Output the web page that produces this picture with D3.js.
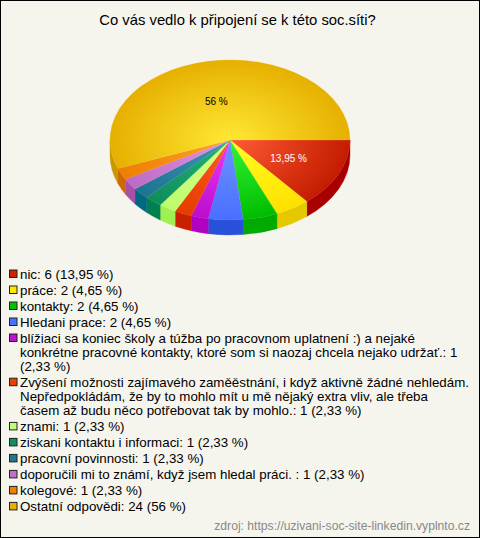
<!DOCTYPE html>
<html><head><meta charset="utf-8">
<script src="https://cdn.jsdelivr.net/npm/d3@7"></script>
<style>html,body{margin:0;padding:0;background:#f5f5ee}svg{display:block}text{font-family:"Liberation Sans",Arial,sans-serif;fill:#000}</style>
</head><body><div id="c"></div>
<script>
const title = "Co vás vedlo k připojení se k této soc.síti?";
const source = "zdroj: https://uzivani-soc-site-linkedin.vyplnto.cz";
const values = [6,2,2,2,1,1,1,1,1,1,1,24];
const percents = ["13,95 %","4,65 %","4,65 %","4,65 %","2,33 %","2,33 %","2,33 %","2,33 %","2,33 %","2,33 %","2,33 %","56 %"];
const legendLines = [
 ["nic: 6 (13,95 %)"],
 ["práce: 2 (4,65 %)"],
 ["kontakty: 2 (4,65 %)"],
 ["Hledani prace: 2 (4,65 %)"],
 ["blížiaci sa koniec školy a túžba po pracovnom uplatnení :) a nejaké","konkrétne pracovné kontakty, ktoré som si naozaj chcela nejako udržať.: 1","(2,33 %)"],
 ["Zvýšení možnosti zajímavého zaměěstnání, i když aktivně žádné nehledám.","Nepředpokládám, že by to mohlo mít u mě nějaký extra vliv, ale třeba","časem až budu něco potřebovat tak by mohlo.: 1 (2,33 %)"],
 ["znami: 1 (2,33 %)"],
 ["ziskani kontaktu i informaci: 1 (2,33 %)"],
 ["pracovní povinnosti: 1 (2,33 %)"],
 ["doporučili mi to známí, když jsem hledal práci. : 1 (2,33 %)"],
 ["kolegové: 1 (2,33 %)"],
 ["Ostatní odpovědi: 24 (56 %)"]
];
const colorInner = ["#ff5c34","#ffff22","#34f534","#6c94ff","#ea3cff","#ff5c20","#dcff88","#22b474","#3c94b4","#e294e2","#ffa428","#ffe834"];
const colorOuter = ["#c41c00","#ffe000","#00bc00","#4a6eff","#bc0ccc","#e63c00","#bcfc6c","#0e8e5c","#1e7490","#bc6cc4","#ee7e00","#e6b000"];
const colorSide  = ["#a80000","#e6c800","#00aa00","#2850d8","#b000c0","#c82000","#a0f050","#008050","#006880","#a850a8","#d06800","#c89800"];
const colorKey   = ["#cc2200","#ffe800","#00c000","#4a70ff","#c010d0","#e84000","#c0ff70","#109060","#207890","#c070c8","#f08000","#e8b000"];
const labelled = [[0,"#fff",0.54],[11,"#000",0.49]];

const W=480,H=538,cx=230,cy=140,rx=120,ry=80,depth=15;
const svg=d3.select("#c").append("svg").attr("width",W).attr("height",H);
svg.append("rect").attr("x",.5).attr("y",.5).attr("width",W-1).attr("height",H-1).attr("fill","#f5f5ee").attr("stroke","#000");

svg.append("text").attr("x",237.5).attr("y",25).attr("text-anchor","middle").attr("font-size",14.8).text(title);

const pie=d3.pie().sort(null).value(d=>d).startAngle(Math.PI/2).endAngle(Math.PI*2.5);
const arcs=pie(values);
const px=a=>cx+rx*Math.sin(a), py=a=>cy-ry*Math.cos(a);

const defs=svg.append("defs");
arcs.forEach((d,i)=>{
  const g=defs.append("radialGradient").attr("id","g"+i).attr("gradientUnits","userSpaceOnUse")
    .attr("cx",0).attr("cy",0).attr("r",rx);
  g.append("stop").attr("offset",0).attr("stop-color",colorInner[i]);
  g.append("stop").attr("offset",1).attr("stop-color",colorOuter[i]);
});

const frontStart=Math.PI/2, frontEnd=Math.PI*1.5;
const sideG=svg.append("g");
arcs.forEach((d,i)=>{
  const a0=Math.max(d.startAngle,frontStart), a1=Math.min(d.endAngle,frontEnd);
  if(a1<=a0) return;
  const s=`M${px(a0)},${py(a0)}A${rx},${ry} 0 0 1 ${px(a1)},${py(a1)}L${px(a1)},${py(a1)+depth}A${rx},${ry} 0 0 0 ${px(a0)},${py(a0)+depth}Z`;
  sideG.append("path").attr("d",s).attr("fill",colorSide[i]).attr("stroke",colorSide[i]).attr("stroke-width",.4);
});

const arc=d3.arc().innerRadius(0).outerRadius(rx);
const topG=svg.append("g").attr("transform",`translate(${cx},${cy}) scale(1,${ry/rx})`);
topG.selectAll("path").data(arcs).join("path").attr("d",arc)
  .attr("fill",(d,i)=>`url(#g${i})`).attr("stroke",(d,i)=>`url(#g${i})`).attr("stroke-width",.3);

labelled.forEach(([i,c,k])=>{
  const d=arcs[i], m=(d.startAngle+d.endAngle)/2;
  svg.append("text").attr("x",cx+rx*k*Math.sin(m)-(i===11?3:0)).attr("y",cy-ry*k*Math.cos(m)+4)
    .attr("text-anchor","middle").attr("font-size",10).style("fill",c).text(percents[i]);
});

const itemStep=16, lineStep=14.1, lx=20, keyX=9, keySize=7.5;
let legY=279;
const leg=svg.append("g");
legendLines.forEach((lines,i)=>{
  leg.append("rect").attr("x",keyX+.5).attr("y",legY-9).attr("width",keySize).attr("height",keySize)
    .attr("fill",colorKey[i]).attr("stroke","#222").attr("stroke-width",1);
  lines.forEach((t,j)=>{
    leg.append("text").attr("x",lx).attr("y",Math.round(legY+j*lineStep)).attr("font-size",13.33).text(t);
  });
  legY+=(lines.length-1)*lineStep+itemStep;
});
svg.append("text").attr("x",470).attr("y",530).attr("text-anchor","end").attr("font-size",12.15).style("fill","#888").text(source);
</script></body></html>
